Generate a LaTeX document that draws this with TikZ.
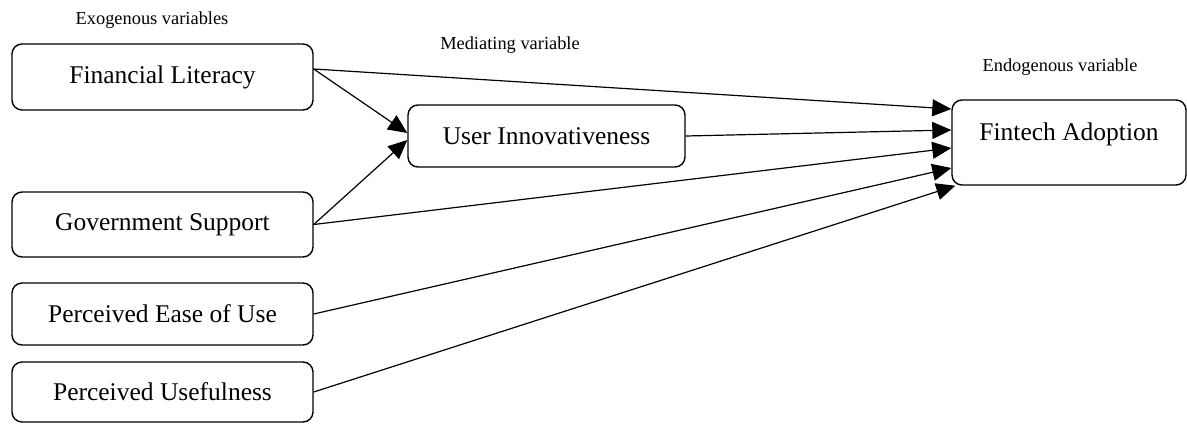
\documentclass[tikz,border=0pt]{standalone}
\usepackage{fontspec}
\setmainfont{Liberation Serif}
\usepackage{tikz}
\usetikzlibrary{positioning,calc,arrows.meta}

\tikzset{
    varbox/.style={draw, line width=0.7pt, rounded corners=5pt, align=center, font=\fontsize{12.75}{15}\selectfont},
    grouplabel/.style={font=\fontsize{9.2}{11}\selectfont},
    path/.style={line width=0.6pt, -{Triangle[length=9.5pt,width=8.5pt]}}
}

\begin{document}
\begin{tikzpicture}[x=0.5pt,y=-0.5pt]
    \useasboundingbox (0,0) rectangle (1187,423);

    % Group labels
    \node[grouplabel] (exo) at (152,20) {Exogenous variables};
    \node[grouplabel] (med) at (510,45) {Mediating variable};
    \node[grouplabel] (endo) at (1060,67) {Endogenous variable};

    % Exogenous boxes
    \node[varbox, minimum width=150.5pt, minimum height=33pt] at (162.5,77) (fl) {Financial Literacy};
    \node[varbox, minimum width=150.5pt, minimum height=32.5pt] at (162.5,224.5) (gs) {Government Support};
    \node[varbox, minimum width=150.5pt, minimum height=31pt] at (162.5,314) (peu) {Perceived Ease of Use};
    \node[varbox, minimum width=150.5pt, minimum height=30pt] at (162.5,392) (pu) {Perceived Usefulness};

    % Mediator and outcome
    \node[varbox, minimum width=138.5pt, minimum height=31pt] at (546.5,136) (ui) {User Innovativeness};
    \node[varbox, minimum width=117pt, minimum height=42.5pt, text depth=11pt] at (1069,142.5) (fa) {Fintech Adoption};

    % Paths into the mediator
    \draw[path] ([yshift=4pt]fl.east) -- ([yshift=1.5pt]ui.west);
    \draw[path] (gs.east) -- ([yshift=-2pt]ui.west);

    % Paths into the outcome
    \draw[path] ([yshift=4pt]fl.east) -- ([yshift=16.75pt]fa.west);
    \draw[path] (ui.east) -- ([yshift=6.25pt]fa.west);
    \draw[path] (gs.east) -- ([yshift=-2.75pt]fa.west);
    \draw[path] (peu.east) -- ([yshift=-12.75pt]fa.west);
    \draw[path] (pu.east) -- ([xshift=2pt]fa.south west);
\end{tikzpicture}
\end{document}
